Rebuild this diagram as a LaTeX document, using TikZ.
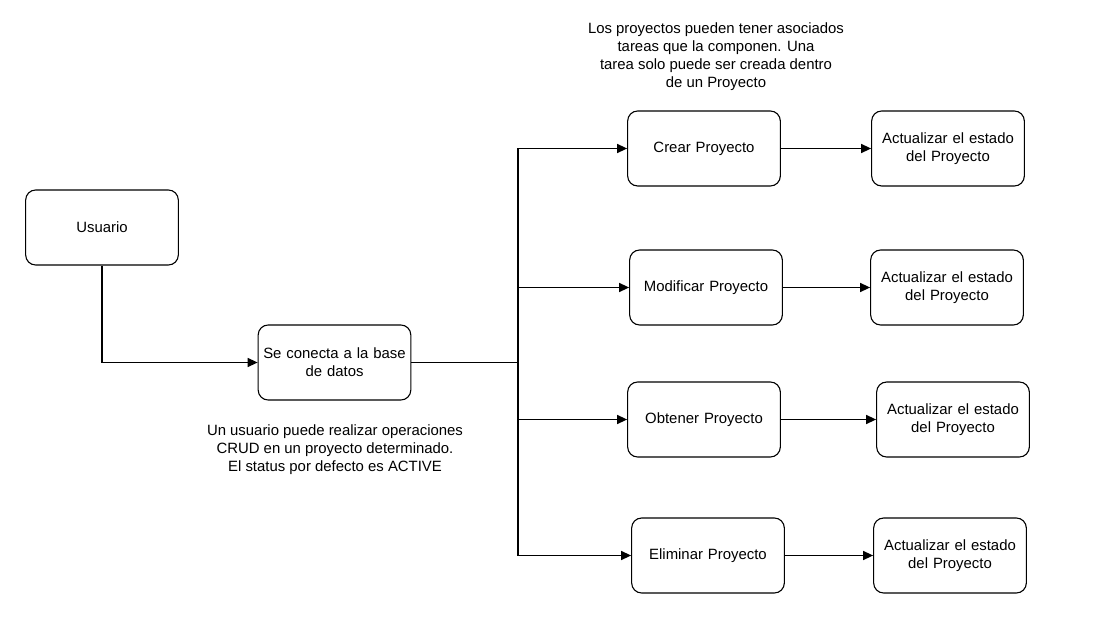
\documentclass[tikz,border=0pt]{standalone}
\usepackage{fontspec}
\setmainfont{Liberation Sans}
\usetikzlibrary{arrows.meta}

\tikzset{
	caja/.style = {draw, rounded corners = 10pt, minimum width = 150pt, minimum height = 75pt,
		align = center, text width = 146pt, line width = 1.1pt, font = \fontsize{14.9}{18}\selectfont},
	nota/.style = {align = center, font = \fontsize{14.9}{18}\selectfont},
	flecha/.style = {line width = 1.3pt, -{Triangle[length = 10pt, width = 9pt]}}
}

\begin{document}
\begin{tikzpicture}[x = 1pt, y = -1pt]
	\useasboundingbox (0, 0) rectangle (1099, 617);

	\node [caja] (U) at (102, 227.5) {Usuario};
	\node [caja] (C) at (334.5, 362.5) {Se conecta a la base\\de datos};

	\node [caja] (P1) at (704, 148.5) {Crear Proyecto};
	\node [caja] (P2) at (706, 287.5) {Modificar Proyecto};
	\node [caja] (P3) at (704, 419.5) {Obtener Proyecto};
	\node [caja] (P4) at (708, 555.5) {Eliminar Proyecto};

	\node [caja] (A1) at (948, 148.5) {Actualizar el estado\\del Proyecto};
	\node [caja] (A2) at (947, 287.5) {Actualizar el estado\\del Proyecto};
	\node [caja] (A3) at (953, 419.5) {Actualizar el estado\\del Proyecto};
	\node [caja] (A4) at (950, 555.5) {Actualizar el estado\\del Proyecto};

	\node [nota] (N1) at (716, 56.5) {Los proyectos pueden tener asociados\\tareas que la componen. Una\\tarea solo puede ser creada dentro\\de un Proyecto};
	\node [nota] (N2) at (335, 449.5) {Un usuario puede realizar operaciones\\CRUD en un proyecto determinado.\\El status por defecto es ACTIVE};

	\coordinate (bus) at (518, 362.5);

	\draw [flecha] (U) |- (C);

	\draw [line width = 1.3pt] (C) -- (bus);
	\draw [flecha] (bus) |- (P1);
	\draw [flecha] (bus) |- (P2);
	\draw [flecha] (bus) |- (P3);
	\draw [flecha] (bus) |- (P4);

	\draw [flecha] (P1) -- (A1);
	\draw [flecha] (P2) -- (A2);
	\draw [flecha] (P3) -- (A3);
	\draw [flecha] (P4) -- (A4);
\end{tikzpicture}
\end{document}
